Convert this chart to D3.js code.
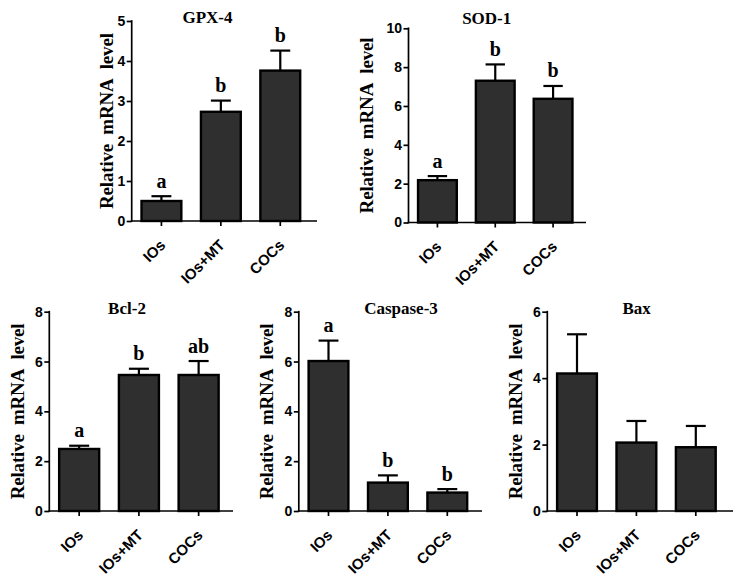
<!DOCTYPE html>
<html>
<head>
<meta charset="utf-8">
<script src="https://cdn.jsdelivr.net/npm/d3@7"></script>
<style>
  html, body { margin: 0; padding: 0; background: #fff; }
  svg { display: block; }
</style>
</head>
<body>
<script>
// ---------- data ----------
const categories = ["IOs", "IOs+MT", "COCs"];

const gpx4Mean = [0.50, 2.73, 3.76];
const gpx4Sem  = [0.12, 0.28, 0.50];
const gpx4Letters = ["a", "b", "b"];
const gpx4Ticks = [0, 1, 2, 3, 4, 5];

const sod1Mean = [2.18, 7.30, 6.37];
const sod1Sem  = [0.21, 0.84, 0.66];
const sod1Letters = ["a", "b", "b"];
const sod1Ticks = [0, 2, 4, 6, 8, 10];

const bcl2Mean = [2.49, 5.46, 5.46];
const bcl2Sem  = [0.13, 0.25, 0.56];
const bcl2Letters = ["a", "b", "ab"];
const bcl2Ticks = [0, 2, 4, 6, 8];

const casp3Mean = [6.02, 1.14, 0.74];
const casp3Sem  = [0.82, 0.29, 0.14];
const casp3Letters = ["a", "b", "b"];
const casp3Ticks = [0, 2, 4, 6, 8];

const baxMean = [4.14, 2.06, 1.92];
const baxSem  = [1.18, 0.65, 0.64];
const baxLetters = ["", "", ""];
const baxTicks = [0, 2, 4, 6];

const titles = ["GPX-4", "SOD-1", "Bcl-2", "Caspase-3", "Bax"];
const yLabel = "Relative\u00a0\u00a0mRNA\u00a0\u00a0level";

// ---------- layout ----------
const W = 738, H = 581;
const panels = [
  { title: titles[0], mean: gpx4Mean, sem: gpx4Sem, letters: gpx4Letters, ticks: gpx4Ticks,
    ax: 131.7, rEnd: 310, axEnd: 317, top: 21, bottom: 221, labelX: 113, titleX: 207.5, titleY: 23 },
  { title: titles[1], mean: sod1Mean, sem: sod1Sem, letters: sod1Letters, ticks: sod1Ticks,
    ax: 408.5, rEnd: 582, axEnd: 586, top: 28.3, bottom: 222.5, labelX: 373, titleX: 486.7, titleY: 24 },
  { title: titles[2], mean: bcl2Mean, sem: bcl2Sem, letters: bcl2Letters, ticks: bcl2Ticks,
    ax: 49.3, rEnd: 228.5, axEnd: 233, top: 311.7, bottom: 511, labelX: 23.5, titleX: 127, titleY: 314 },
  { title: titles[3], mean: casp3Mean, sem: casp3Sem, letters: casp3Letters, ticks: casp3Ticks,
    ax: 298.8, rEnd: 477, axEnd: 482, top: 311.7, bottom: 511, labelX: 273.3, titleX: 401, titleY: 314 },
  { title: titles[4], mean: baxMean, sem: baxSem, letters: baxLetters, ticks: baxTicks,
    ax: 547.3, rEnd: 725.5, axEnd: 733, top: 311.7, bottom: 511, labelX: 521.7, titleX: 636.7, titleY: 314 }
];

const svg = d3.select("body").append("svg")
  .attr("width", W).attr("height", H)
  .attr("viewBox", `0 0 ${W} ${H}`);

const serif = "'Liberation Serif', 'Times New Roman', serif";
const sans = "'Liberation Sans', Arial, sans-serif";

panels.forEach(p => {
  const g = svg.append("g");
  const x = d3.scaleBand().domain(categories).range([p.ax, p.rEnd])
    .paddingInner(0.33).paddingOuter(0.165);
  const ymax = d3.max(p.ticks);
  const y = d3.scaleLinear().domain([0, ymax]).range([p.bottom, p.top]);

  // bars
  g.selectAll("rect.bar").data(categories).join("rect")
    .attr("class", "bar")
    .attr("x", d => x(d))
    .attr("width", x.bandwidth())
    .attr("y", (d, i) => y(p.mean[i]))
    .attr("height", (d, i) => y(0) - y(p.mean[i]))
    .attr("fill", "#2f2f2f")
    .attr("stroke", "#000")
    .attr("stroke-width", 2.4);

  // error bars (upper only)
  const capW = x.bandwidth() * 0.5;
  categories.forEach((c, i) => {
    const cx = x(c) + x.bandwidth() / 2;
    const yt = y(p.mean[i] + p.sem[i]);
    g.append("line").attr("x1", cx).attr("x2", cx)
      .attr("y1", y(p.mean[i])).attr("y2", yt)
      .attr("stroke", "#000").attr("stroke-width", 2.2);
    g.append("line").attr("x1", cx - capW / 2).attr("x2", cx + capW / 2)
      .attr("y1", yt).attr("y2", yt)
      .attr("stroke", "#000").attr("stroke-width", 2.2);
    if (p.letters[i]) {
      g.append("text").attr("x", cx).attr("y", yt - 8.5)
        .attr("text-anchor", "middle")
        .attr("font-family", serif).attr("font-weight", "bold")
        .attr("font-size", 20).attr("fill", "#000")
        .text(p.letters[i]);
    }
  });

  // y axis
  const yAxis = d3.axisLeft(y).tickValues(p.ticks).tickSize(5).tickPadding(1.5)
    .tickFormat(d3.format("d"));
  const ya = g.append("g").attr("transform", `translate(${p.ax},0)`).call(yAxis);
  ya.select(".domain").remove();
  ya.selectAll(".tick line").attr("stroke", "#000").attr("stroke-width", 1.7);
  ya.selectAll(".tick text").attr("font-family", sans).attr("font-weight", "bold")
    .attr("font-size", 14).attr("fill", "#000");
  g.append("line").attr("x1", p.ax).attr("x2", p.ax)
    .attr("y1", p.top - 0.85).attr("y2", p.bottom + 0.85)
    .attr("stroke", "#000").attr("stroke-width", 1.7);

  // x axis
  const xAxis = d3.axisBottom(x).tickSize(5).tickSizeOuter(0);
  const xa = g.append("g").attr("transform", `translate(0,${p.bottom})`).call(xAxis);
  xa.select(".domain").remove();
  xa.selectAll(".tick line").attr("stroke", "#000").attr("stroke-width", 1.7);
  xa.selectAll(".tick text")
    .attr("font-family", sans).attr("font-weight", "bold").attr("font-size", 15)
    .attr("fill", "#000")
    .attr("text-anchor", "end")
    .attr("dy", null)
    .attr("y", null)
    .attr("transform", "translate(5,25) rotate(-45)");
  g.append("line").attr("x1", p.ax - 0.85).attr("x2", p.axEnd)
    .attr("y1", p.bottom).attr("y2", p.bottom)
    .attr("stroke", "#000").attr("stroke-width", 1.7);

  // y label
  const cy = (p.top + p.bottom) / 2;
  g.append("text")
    .attr("transform", `translate(${p.labelX},${cy}) rotate(-90)`)
    .attr("text-anchor", "middle")
    .attr("font-family", serif).attr("font-weight", "bold")
    .attr("font-size", 19).attr("fill", "#000")
    .attr("textLength", 176).attr("lengthAdjust", "spacing")
    .text(yLabel);

  // title
  g.append("text").attr("x", p.titleX).attr("y", p.titleY)
    .attr("text-anchor", "middle")
    .attr("font-family", serif).attr("font-weight", "bold")
    .attr("font-size", 17).attr("fill", "#000")
    .text(p.title);
});
</script>
</body>
</html>
